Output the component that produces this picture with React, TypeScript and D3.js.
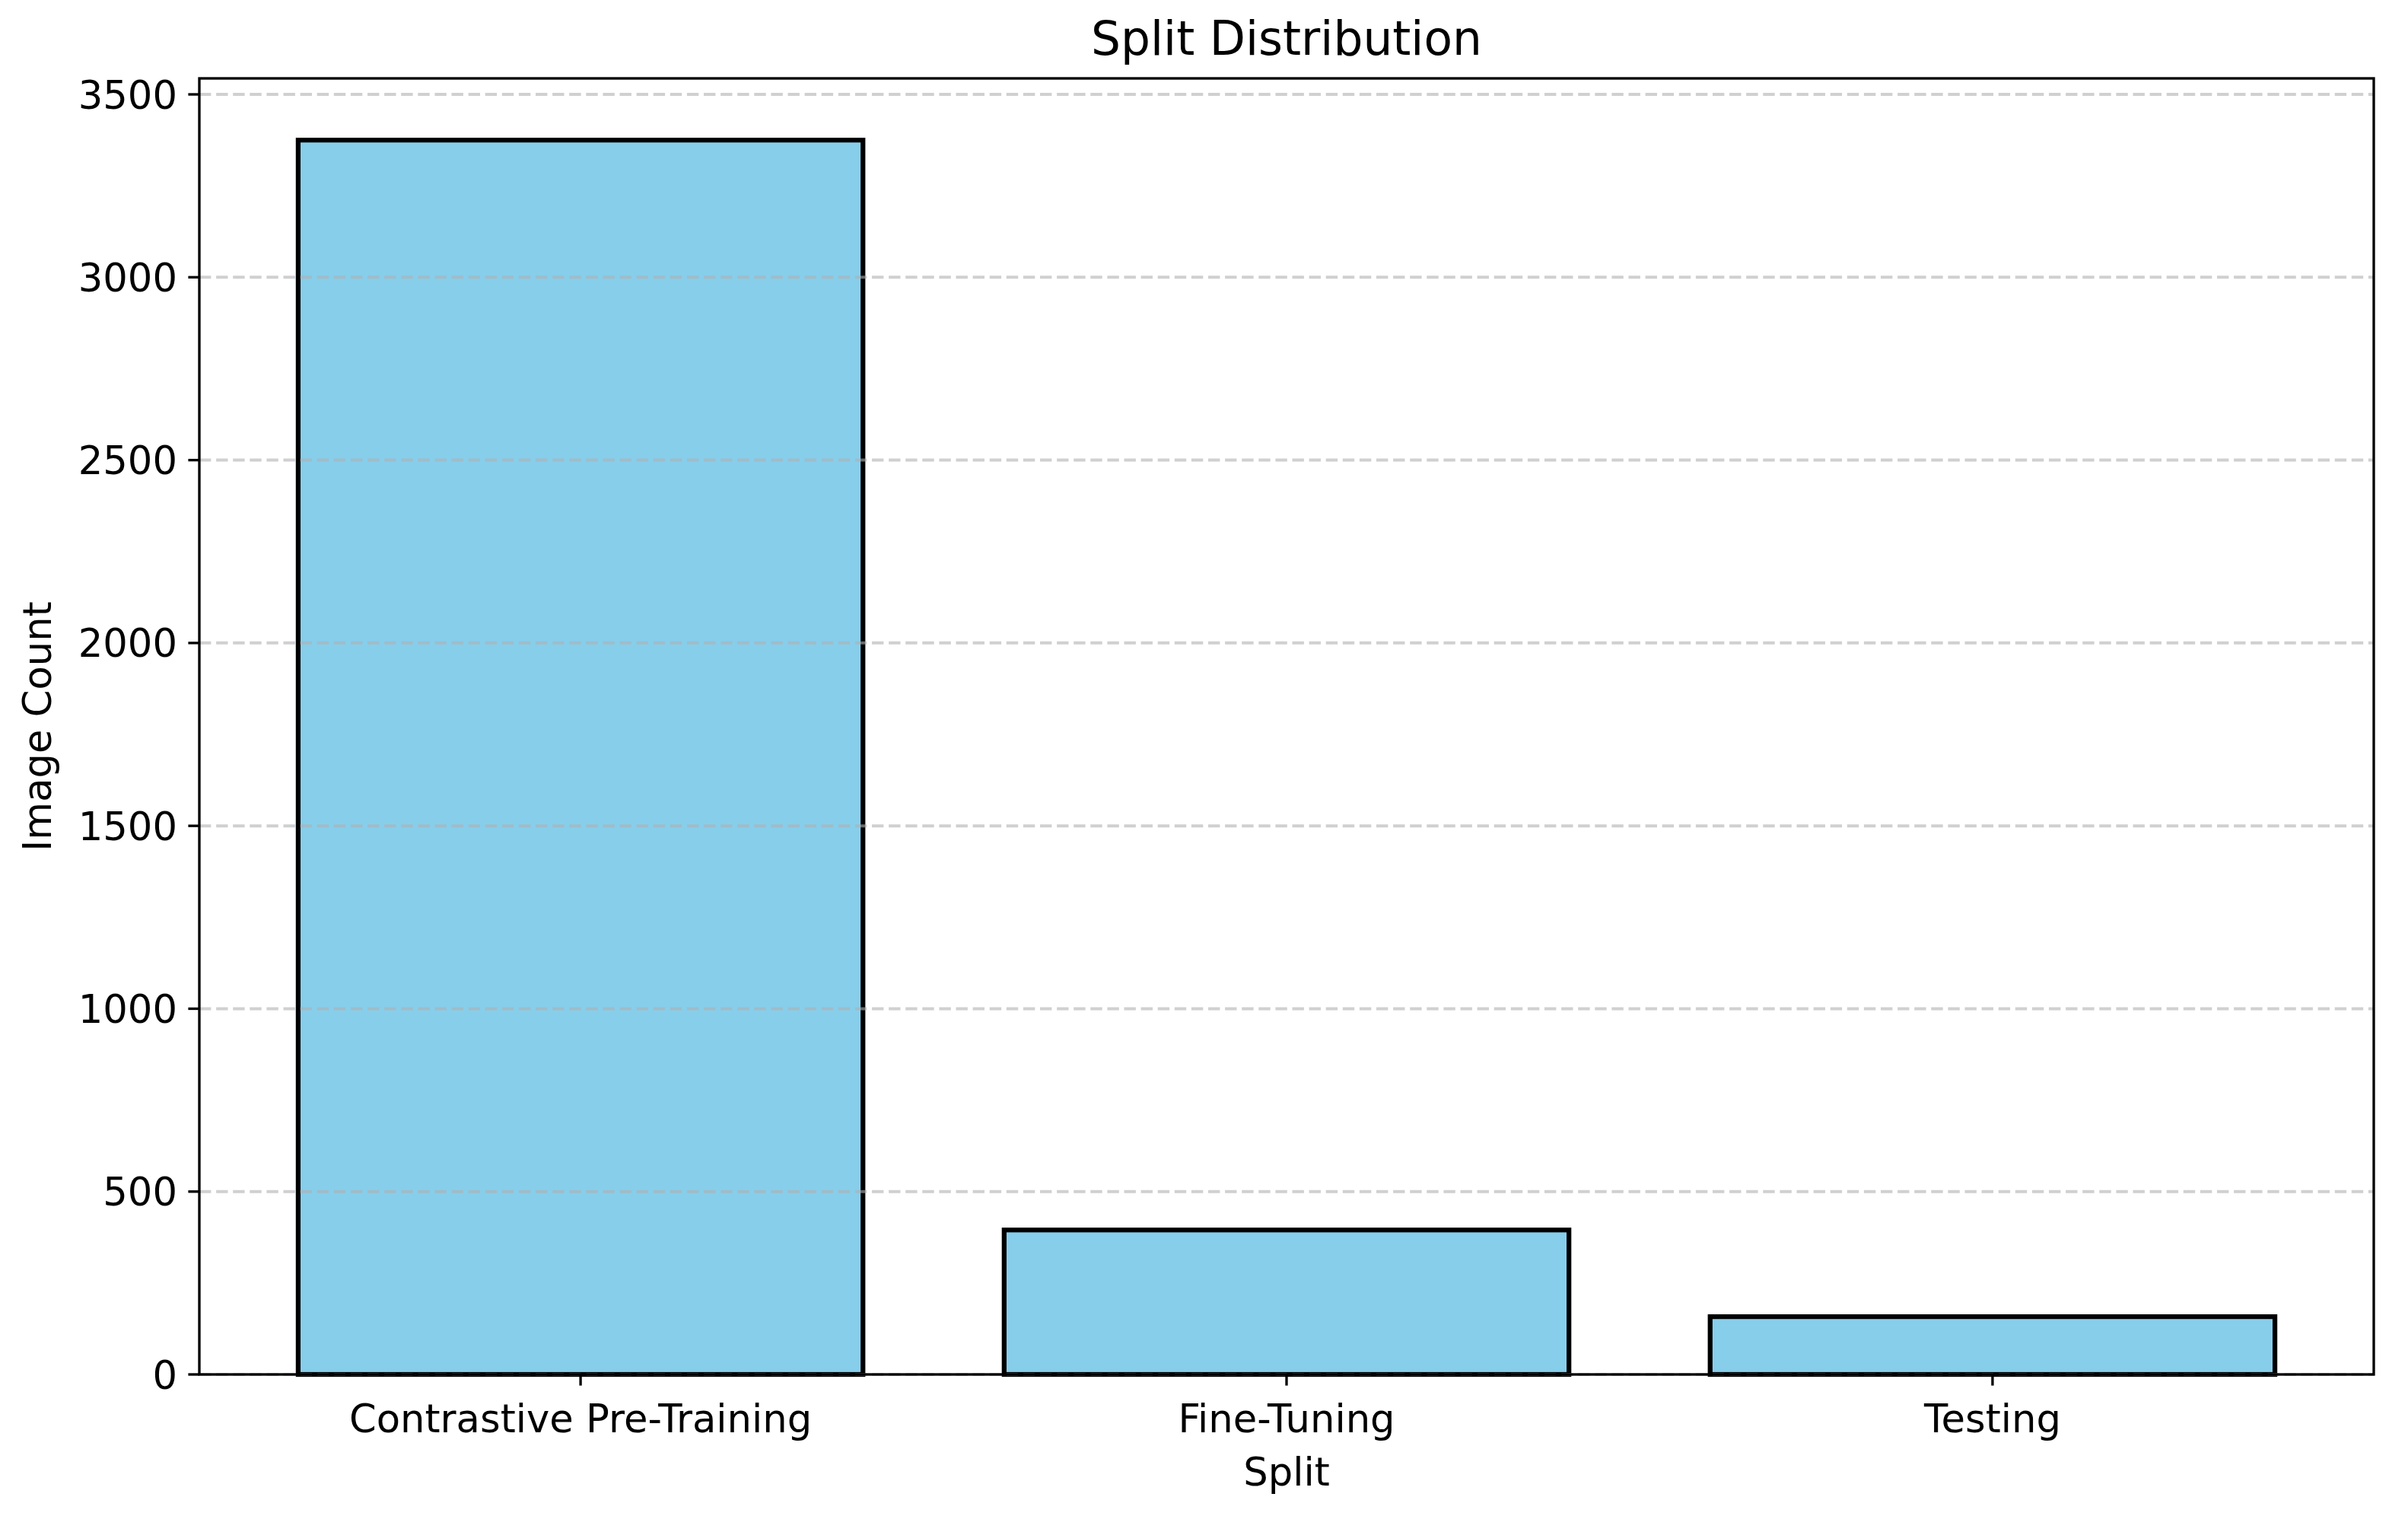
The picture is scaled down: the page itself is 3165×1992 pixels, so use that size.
import React from "react";
import * as d3 from "d3";

// values
const splits = ["Contrastive Pre-Training", "Fine-Tuning", "Testing"];
const imageCounts = [3375, 395, 158];
const yTickValues = [0, 500, 1000, 1500, 2000, 2500, 3000, 3500];

const W = 3165;
const H = 1992;
const margin = { top: 103, right: 45, bottom: 186, left: 262 };
const FONT = "DejaVu Sans, sans-serif";
const FS = 51.2; // tick / axis label size
const TITLE_FS = 61.4;

const App: React.FC = () => {
  const x0 = margin.left;
  const x1 = W - margin.right;
  const y0 = H - margin.bottom;
  const y1 = margin.top;

  const x = d3
    .scaleBand<string>()
    .domain(splits)
    .range([x0, x1])
    .paddingInner(0.2)
    .paddingOuter(0.14);

  const y = d3
    .scaleLinear()
    .domain([0, d3.max(imageCounts)! * 1.05])
    .range([y0, y1]);

  const tickLen = 14.6;
  const spineW = 3.33;

  return (
    <svg
      width={W}
      height={H}
      style={{ position: "absolute", left: 0, top: 0, display: "block", background: "#fff" }}
      fontFamily={FONT}
    >
      <rect x={0} y={0} width={W} height={H} fill="#fff" />

      {/* bars */}
      {splits.map((s, i) => (
        <rect
          key={s}
          x={x(s)!}
          y={y(imageCounts[i])}
          width={x.bandwidth()}
          height={y(0) - y(imageCounts[i])}
          fill="#87CEEB"
          stroke="#000"
          strokeWidth={6.25}
        />
      ))}

      {/* y grid, above the bars like matplotlib */}
      {yTickValues.map((t) => (
        <line
          key={"g" + t}
          x1={x0}
          x2={x1}
          y1={y(t)}
          y2={y(t)}
          stroke="#b0b0b0"
          strokeOpacity={0.6}
          strokeWidth={4}
          strokeDasharray="15.4,6.7"
        />
      ))}

      {/* y ticks */}
      {yTickValues.map((t) => (
        <g key={"t" + t}>
          <line x1={x0 - tickLen} x2={x0} y1={y(t)} y2={y(t)} stroke="#000" strokeWidth={spineW} />
          <text x={x0 - 29} y={y(t) + 18.5} textAnchor="end" fontSize={FS} fill="#000">
            {t}
          </text>
        </g>
      ))}

      {/* x ticks */}
      {splits.map((s) => {
        const cx = x(s)! + x.bandwidth() / 2;
        return (
          <g key={"x" + s}>
            <line x1={cx} x2={cx} y1={y0} y2={y0 + tickLen} stroke="#000" strokeWidth={spineW} />
            <text x={cx} y={1882} textAnchor="middle" fontSize={FS} fill="#000">
              {s}
            </text>
          </g>
        );
      })}

      {/* spines */}
      <rect
        x={x0}
        y={y1}
        width={x1 - x0}
        height={y0 - y1}
        fill="none"
        stroke="#000"
        strokeWidth={spineW}
      />

      {/* labels */}
      <text x={(x0 + x1) / 2} y={72} textAnchor="middle" fontSize={TITLE_FS} fill="#000">
        Split Distribution
      </text>
      <text x={(x0 + x1) / 2} y={1952} textAnchor="middle" fontSize={FS} fill="#000">
        Split
      </text>
      <text
        transform={`translate(67,${(y0 + y1) / 2}) rotate(-90)`}
        textAnchor="middle"
        fontSize={FS}
        fill="#000"
      >
        Image Count
      </text>
    </svg>
  );
};

export default App;
